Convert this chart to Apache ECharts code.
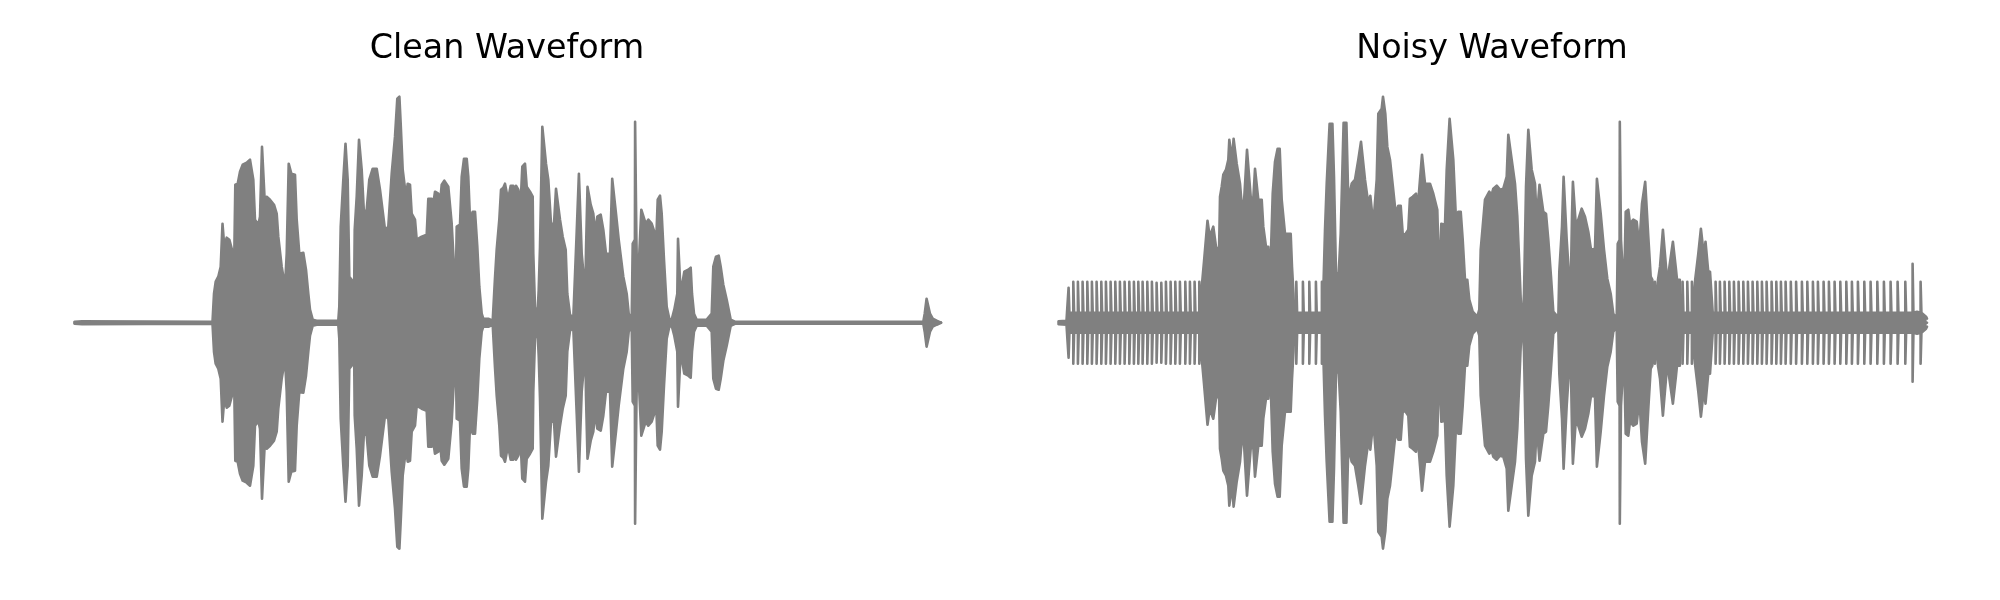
<!DOCTYPE html>
<html>
<head>
<meta charset="utf-8">
<script src="https://cdn.jsdelivr.net/npm/echarts@6/dist/echarts.min.js"></script>
<style>html,body{margin:0;padding:0;background:#fff}#c{width:2000px;height:600px}</style>
</head>
<body>
<div id="c"></div>
<script>
const panelTitles = ['Clean Waveform', 'Noisy Waveform'];

// Envelope of each waveform: [time, amplitude] (mirrored around zero).
const cleanEnvelope = [
[1.5,1],[9,1.5],[11,1],[139.5,1],[141,29],[142.7,41],[145.3,46],[147.7,56],[148.7,58],[149.5,99],[150.7,99],[151.3,76],[153.7,85],[156.3,83],[158.7,74],[160,69],[160.7,26],[161.7,26],[162.3,138],[164.7,139],[167,151],[169.7,158],[173.7,160],[177,163],[179,161],[180.3,143],[182,103],[185.3,98],[187,106],[189,176],[190.3,176],[192,116],[193.7,126],[197,123],[201,118],[203.7,109],[205.3,86],[208.7,56],[212,36],[213.7,69],[215.7,159],[218.3,149],[222,148],[223.7,103],[226.3,69],[230.3,70],[233,53],[235.3,29],[237,13],[239.7,3],[243.7,2],[265.3,2],[266.3,16],[267.7,96],[270.3,143],[272.5,179],[273.5,179],[274.7,143],[276.3,46],[278.7,43],[281,16],[281.7,93],[283.7,126],[286,183],[287.4,183],[288.7,153],[291,109],[293.7,113],[296.3,143],[299.7,154],[303.7,154],[307,133],[312,93],[315.3,96],[318.7,149],[322,186],[324.3,224],[326.4,226],[327.7,199],[329.7,153],[333,126],[334.7,139],[337,138],[338.7,109],[342,103],[343.7,83],[348.7,86],[353.7,88],[355.3,124],[358.7,124],[360.3,119],[362,131],[365.3,129],[367,119],[368.7,138],[371.3,142],[375.3,136],[378.7,99],[381,56],[382.7,33],[383.7,96],[387,98],[388.7,146],[391,164],[393.7,164],[395.3,146],[397,103],[399.7,111],[402,111],[404.3,76],[406.3,36],[408.7,9],[410.3,4],[415.3,4],[419.7,2],[422,45],[423.7,73],[426.3,103],[428,133],[430.3,135],[432,139],[433.7,139],[435,123],[437.7,137],[440.3,137],[441.7,128],[443,137],[445.3,133],[447.7,121],[449.3,156],[452,159],[453.7,136],[457,131],[459.7,126],[460.3,69],[462,16],[464.3,4],[465.7,33],[467,76],[469.3,196],[470.7,196],[473,159],[475.3,143],[478,99],[481,99],[483,134],[484.3,133],[487,103],[489.7,86],[492.7,73],[494.3,29],[497,8],[500.3,5],[502,48],[503.7,91],[505.9,149],[506.8,149],[508.7,69],[511,43],[512.3,26],[513,73],[514.5,136],[516.1,136],[517.7,118],[520.3,109],[522.3,89],[524.3,106],[527.7,108],[530.3,93],[533,69],[537,69],[539.2,144],[540.8,144],[543,109],[545.7,83],[550.3,46],[553.7,29],[555.7,9],[558.7,4],[559.7,79],[561.9,83],[562.1,201],[563.1,201],[563.4,83],[564.3,36],[566.3,69],[568.3,113],[570.3,113],[572.7,99],[575.3,103],[578.7,99],[581.3,91],[583,76],[584.7,123],[587,127],[588.7,109],[591,63],[593.7,16],[596.3,4],[598.7,3],[601.3,13],[604.3,29],[605,84],[606.7,85],[607.7,29],[609.7,28],[611.3,51],[615.3,53],[617.7,55],[619,29],[621,9],[623.7,3],[633.7,3],[638.7,9],[640.3,56],[643,66],[645.7,67],[647.7,56],[650.3,38],[653.7,23],[655.7,13],[657.7,3],[662,1],[850.3,1],[851.7,9],[853.6,24],[855,24],[857,9],[859.7,4],[863.7,2],[868,0]
];

const noisyEnvelope = [
[1.5,1.5],[9.5,2],[10,10],[145,10],[145.3,42],[147,61],[149,61],[150.5,102],[151.5,102],[152.7,86],[154.7,86],[156.3,96],[157.7,96],[159,76],[160.7,73],[161.7,51],[163,126],[164.7,136],[166.3,148],[169,153],[171.3,163],[172.3,183],[173.7,183],[175,163],[176.6,184],[178,184],[179.7,159],[183,139],[185.7,106],[187.3,126],[190,173],[192,173],[193.7,126],[196.3,124],[198,154],[200,154],[201.3,123],[204.7,123],[206.3,96],[209,76],[211.3,76],[213,39],[215.7,129],[218,161],[220.6,174],[222.7,174],[224.7,123],[228,89],[233.7,89],[235,56],[236.5,29],[237,10],[266.8,10],[268,93],[269.7,139],[272.6,199],[275.4,199],[277,146],[279,49],[281.7,50],[283.7,89],[286.6,200],[289.4,200],[291.3,123],[294.7,139],[298,143],[301.3,163],[304,181],[305.4,181],[308,143],[311.3,119],[313.3,127],[314.7,127],[316.3,98],[319.7,143],[321.3,209],[324.7,214],[326,226],[326.6,226],[328.3,209],[330.3,176],[333,163],[335.9,136],[337.5,136],[338.7,109],[341.3,117],[343.7,117],[345.7,89],[348,88],[351.3,93],[352.9,124],[354.7,124],[355.7,126],[359,129],[360.3,109],[363,143],[365,168],[366.4,168],[368,139],[373,139],[376.3,129],[380.3,113],[382.3,39],[384.3,99],[388,98],[389.7,153],[392.6,204],[394.4,204],[396.3,163],[399,103],[401.3,111],[403.7,111],[405.7,83],[408,43],[410.3,43],[412.3,23],[415.7,11],[420.3,6],[422.3,13],[423.7,73],[425.7,96],[428,123],[432.3,131],[434.7,128],[436.3,134],[439.7,137],[443,133],[446.3,134],[449.7,146],[451.3,188],[452.7,188],[454.7,163],[458,139],[460.3,106],[462.3,59],[464.3,9],[465.7,4],[467,29],[469,136],[471.3,193],[472.7,193],[474.7,153],[478,139],[479.7,103],[482.5,138],[484.1,138],[486.3,111],[489,109],[491.3,83],[494,46],[496.3,11],[501.3,5],[502.3,51],[505,96],[506.6,146],[508.4,146],[509.7,83],[512.3,43],[513.7,33],[515,108],[515.9,141],[517.1,141],[518.7,99],[521.3,103],[524.7,114],[528,106],[531.3,91],[534,73],[538,74],[539.9,144],[541.8,144],[543.7,109],[547,73],[550.3,44],[553.7,29],[556.3,9],[559.7,4],[560.7,79],[562.6,83],[562.8,201],[563.8,201],[564,83],[565.3,83],[567,29],[568.7,111],[571.3,113],[573,99],[576.3,103],[579.7,101],[582.3,76],[585,119],[588.2,141],[589.8,141],[591.3,86],[593.7,46],[595.3,43],[595.8,10],[600.3,10],[601,43],[603,56],[605.9,93],[607.8,93],[609,56],[610.7,33],[611.3,33],[612,53],[613,53],[615.9,81],[617.5,81],[619,53],[620,43],[622.8,43],[623.2,10],[637.7,10],[638.2,43],[639.7,43],[641.3,69],[643.9,94],[645.5,94],[647,66],[648.5,81],[650.1,81],[651.7,46],[653,51],[655,51],[655.7,10],[852.5,10],[860,11],[866,8],[869,6],[870,4]
];

// Narrow pulses of the noise comb: [time, peak amplitude].
const noisyPulses = [
[12,35],[16.7,41],[21.3,41],[26,41],[30.7,41],[35.3,41],[40,41],[44.7,41],[49.3,41],[54,41],[58.7,41],[63.3,41],[68,41],[72.7,41],[77.3,41],[81.7,41],[86,41],[90.7,41],[95.3,41],[100,40],[104.7,40],[109.3,41],[114,41],[118.7,41],[123.3,41],[128.7,41],[133.3,41],[138,41],[142.7,41],
[239.7,41],[246.3,41],[252.7,41],[259.3,41],[265.3,41],
[598.3,41],[626,41],[630.7,41],[635.3,41],
[659,41],[663.3,41],[668,41],[672.7,41],[677.3,41],[682,41],[686.7,41],[691.3,41],[696,41],[700.7,41],[705.3,41],[710,41],[715,41],[719.7,41],[724.3,41],[729,41],[734.2,41],[739.5,41],[745.3,41],[750.7,41],[756.3,41],[761.3,41],[767,41],[772.3,41],[778,41],[783.7,41],[789.7,41],[795.3,41],[801.3,41],[807.7,41],[814,41],[820.7,41],[827.3,41],[834,41],[841,41],[848.7,41],[856,59],[864,41]
];
const pulseFloor = 10;
const timeMax = 872, ampMax = 233;

function withPulses(env, pulses) {
  const pts = env.slice();
  pulses.forEach(([t, a]) => {
    pts.push([t - 0.42, pulseFloor], [t - 0.4, a], [t + 0.4, a], [t + 0.42, pulseFloor]);
  });
  return pts.sort((p, q) => p[0] - q[0]);
}
const mirrored = pts => pts.map(([t, a]) => [t, -a]);

const GRAY = '#808080';
const wave = (name, idx, data) => ({
  name, type: 'line', xAxisIndex: idx, yAxisIndex: idx, data,
  showSymbol: false, symbol: 'none', animation: false, clip: false, silent: true,
  lineStyle: { color: GRAY, width: 2.6, join: 'round', cap: 'round' },
  areaStyle: { color: GRAY, opacity: 1, origin: 0 },
  itemStyle: { color: GRAY }
});
const noisy = withPulses(noisyEnvelope, noisyPulses);
// The waveform's own silent baseline, which closes the seam between the mirrored halves.
const cleanBaseline = [[1.5,0],[868,0]];
const noisyBaseline = [[1.5,0],[870,0]];
const titleStyle = { fontFamily: 'DejaVu Sans', fontSize: 33.33, fontWeight: 'normal', color: '#000' };

const chart = echarts.init(document.getElementById('c'), null, { renderer: 'canvas' });
chart.setOption({
  backgroundColor: '#fff',
  animation: false,
  title: [
    { text: panelTitles[0], left: 502, top: 28, textAlign: 'center', textStyle: titleStyle },
    { text: panelTitles[1], left: 1487, top: 28, textAlign: 'center', textStyle: titleStyle }
  ],
  grid: [
    { left: 73, width: 872, top: 89.7, height: 466 },
    { left: 1057, width: 872, top: 89.7, height: 466 }
  ],
  xAxis: [0, 1].map(i => ({ type: 'value', gridIndex: i, min: 0, max: timeMax, show: false })),
  yAxis: [0, 1].map(i => ({ type: 'value', gridIndex: i, min: -ampMax, max: ampMax, show: false })),
  series: [
    wave('Clean +', 0, cleanEnvelope),
    wave('Clean -', 0, mirrored(cleanEnvelope)),
    wave('Clean baseline', 0, cleanBaseline),
    wave('Noisy +', 1, noisy),
    wave('Noisy -', 1, mirrored(noisy)),
    wave('Noisy baseline', 1, noisyBaseline)
  ]
});
</script>
</body>
</html>
